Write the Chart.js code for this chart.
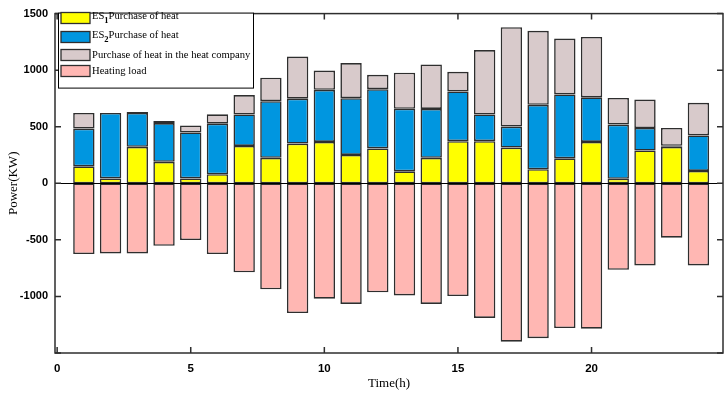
<!DOCTYPE html>
<html>
<head>
<meta charset="utf-8">
<script src="https://cdn.jsdelivr.net/npm/chart.js@4.4.1/dist/chart.umd.min.js"></script>
<style>
  html, body { margin: 0; padding: 0; background: #fff; }
  #wrap { width: 726px; height: 394px; position: relative; }
</style>
</head>
<body>
<div id="wrap"><canvas id="heatChart"></canvas></div>
<script>
// hourly heat balance (KW)
const hours = [1, 2, 3, 4, 5, 6, 7, 8, 9, 10, 11, 12, 13, 14, 15, 16, 17, 18, 19, 20, 21, 22, 23, 24];
const es1Heat = [150, 43, 322, 190, 43, 80, 330, 225, 351, 366, 251, 308, 106, 225, 372, 372, 316, 124, 221, 366, 40, 290, 322, 109];
const es2Heat = [334, 579, 300, 342, 406, 447, 278, 501, 397, 460, 501, 524, 553, 432, 440, 236, 185, 570, 565, 394, 479, 199, 9, 314];
const companyHeat = [138, 0, 9, 18, 63, 83, 172, 207, 372, 170, 311, 127, 318, 394, 173, 570, 879, 654, 493, 533, 236, 251, 158, 288];
const heatingLoad = [-626, -620, -620, -553, -501, -626, -787, -937, -1147, -1020, -1066, -963, -991, -1066, -997, -1190, -1400, -1369, -1279, -1285, -764, -726, -481, -726];
const xTicks = [0, 5, 10, 15, 20];
const yTicks = [-1500, -1000, -500, 0, 500, 1000, 1500];

const edge = "#2e2e2e";

function series(label, values, color) {
  return {
    label: label,
    data: values.map((v, i) => ({ x: hours[i], y: v })),
    backgroundColor: color,
    borderColor: edge,
    borderWidth: 1.6,
    borderSkipped: false,
    barPercentage: 0.8,
    categoryPercentage: 1.0,
  };
}

// box around the axes, inward tick marks, zero baseline
const framePlugin = {
  id: "frame",
  afterDatasetsDraw(chart) {
    const { ctx, chartArea: a, scales } = chart;
    ctx.save();
    ctx.strokeStyle = "#000";
    ctx.lineWidth = 1;
    const y0 = Math.round(scales.y.getPixelForValue(0)) + 0.5;
    ctx.beginPath();
    ctx.moveTo(a.left, y0);
    ctx.lineTo(a.right, y0);
    ctx.stroke();

    ctx.strokeStyle = edge;
    ctx.lineWidth = 1.5;
    ctx.strokeRect(a.left, a.top, a.right - a.left, a.bottom - a.top);
    const len = 6;
    ctx.beginPath();
    xTicks.forEach((t) => {
      const px = scales.x.getPixelForValue(t);
      ctx.moveTo(px, a.bottom);
      ctx.lineTo(px, a.bottom - len);
      ctx.moveTo(px, a.top);
      ctx.lineTo(px, a.top + len);
    });
    yTicks.forEach((t) => {
      const py = scales.y.getPixelForValue(t);
      ctx.moveTo(a.left, py);
      ctx.lineTo(a.left + len, py);
      ctx.moveTo(a.right, py);
      ctx.lineTo(a.right - len, py);
    });
    ctx.stroke();
    ctx.restore();
  },
};

// legend drawn inside the plot, top left, with a frame
const boxLegend = {
  id: "boxLegend",
  afterDraw(chart) {
    const { ctx, chartArea: a } = chart;
    const left = a.left + 3;
    const top = a.top - 1;
    const w = 195;
    const h = 75;
    const rows = [18, 37, 55, 71];
    const txtFont = "10.6px 'Liberation Serif', serif";
    ctx.save();
    ctx.fillStyle = "#fff";
    ctx.fillRect(left, top, w, h);
    ctx.strokeStyle = "#000";
    ctx.lineWidth = 1;
    ctx.strokeRect(left + 0.5, top + 0.5, w, h);
    chart.data.datasets.forEach((ds, i) => {
      const cy = rows[i];
      ctx.fillStyle = ds.backgroundColor;
      ctx.fillRect(left + 3, cy - 5.5, 29, 11);
      ctx.strokeStyle = edge;
      ctx.lineWidth = 1.3;
      ctx.strokeRect(left + 3, cy - 5.5, 29, 11);
      ctx.fillStyle = "#000";
      ctx.textBaseline = "middle";
      ctx.font = txtFont;
      let tx = left + 34;
      const m = ds.label.match(/^ES(\d)(.*)$/);
      if (m) {
        ctx.fillText("ES", tx, cy - 2);
        tx += ctx.measureText("ES").width;
        ctx.font = "bold 8.5px 'Liberation Serif', serif";
        ctx.fillText(m[1], tx, cy + 3);
        tx += ctx.measureText(m[1]).width;
        ctx.font = txtFont;
        ctx.fillText(m[2], tx, cy - 2);
      } else {
        ctx.fillText(ds.label, tx, cy);
      }
    });
    ctx.restore();
  },
};

new Chart(document.getElementById("heatChart"), {
  type: "bar",
  data: {
    datasets: [
      series("ES1Purchase of heat", es1Heat, "#ffff00"),
      series("ES2Purchase of heat", es2Heat, "#0096e0"),
      series("Purchase of heat in the heat company", companyHeat, "#d8cacb"),
      series("Heating load", heatingLoad, "#ffb7b3"),
    ],
  },
  options: {
    responsive: true,
    maintainAspectRatio: false,
    animation: false,
    layout: { padding: { top: 6, right: 3, left: 0, bottom: 0 } },
    plugins: {
      legend: { display: false },
      tooltip: { enabled: false },
    },
    scales: {
      x: {
        type: "linear",
        stacked: true,
        offset: false,
        min: -0.08,
        max: 24.92,
        afterBuildTicks: (scale) => {
          scale.ticks = xTicks.map((v) => ({ value: v }));
        },
        afterFit: (scale) => {
          scale.height = 41;
        },
        grid: { display: false, drawTicks: false },
        border: { display: false },
        ticks: {
          padding: 9,
          color: "#000",
          font: { family: "'Liberation Sans', Arial, sans-serif", size: 11.5, weight: "bold" },
        },
        title: {
          display: true,
          text: "Time(h)",
          color: "#000",
          padding: { top: 0, bottom: 3 },
          font: { family: "'Liberation Serif', serif", size: 13 },
        },
      },
      y: {
        stacked: true,
        min: -1500,
        max: 1500,
        afterBuildTicks: (scale) => {
          scale.ticks = yTicks.map((v) => ({ value: v }));
        },
        afterFit: (scale) => {
          scale.width = 55;
        },
        grid: { display: false, drawTicks: false },
        border: { display: false },
        ticks: {
          padding: 7,
          color: "#000",
          font: { family: "'Liberation Sans', Arial, sans-serif", size: 11, weight: "bold" },
          callback: (v) => (v === -1500 ? "" : v),
        },
        title: {
          display: true,
          text: "Power(KW)",
          color: "#000",
          padding: { top: 6, bottom: 0 },
          font: { family: "'Liberation Serif', serif", size: 13 },
        },
      },
    },
  },
  plugins: [framePlugin, boxLegend],
});
</script>
</body>
</html>
